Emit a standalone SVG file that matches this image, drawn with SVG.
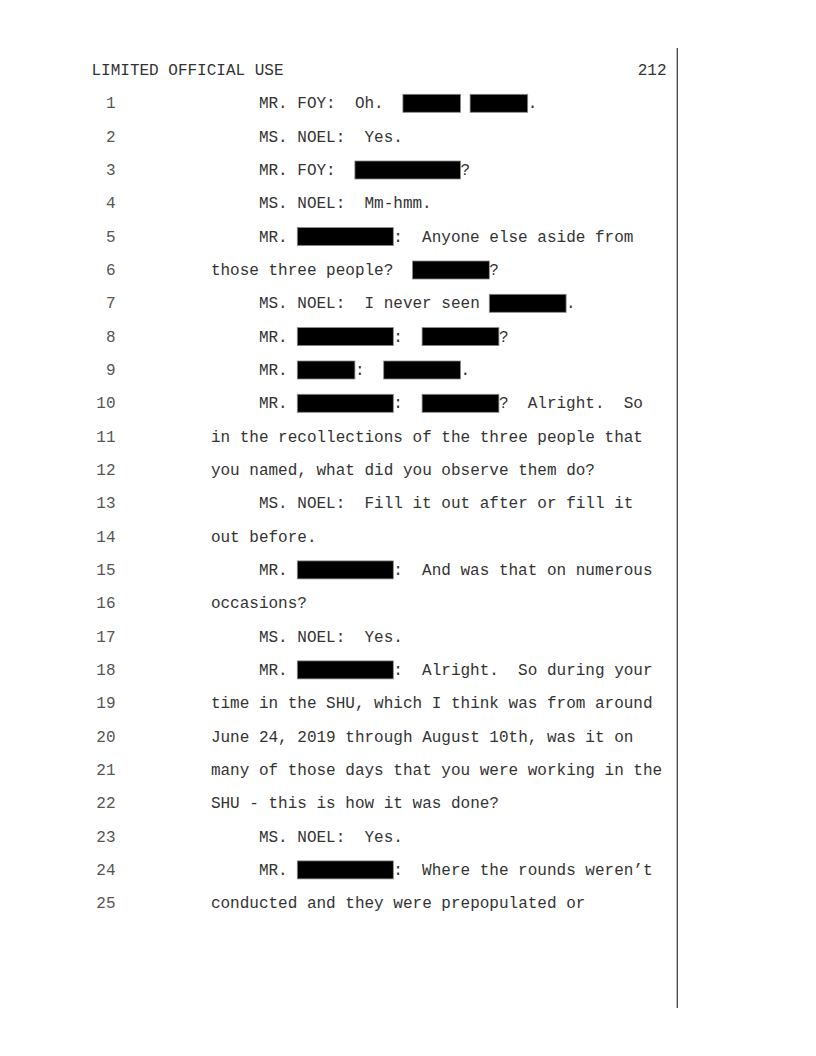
<svg xmlns="http://www.w3.org/2000/svg" width="816" height="1056" viewBox="0 0 816 1056" xml:space="preserve">
<style>
text{font-family:"Liberation Mono","Courier New",monospace;font-size:16px;fill:#333;white-space:pre}
.num{fill:#555;text-anchor:end}
.r{fill:#000;stroke:#8a8a8a;stroke-width:0.8}
</style>
<rect x="0" y="0" width="816" height="1056" fill="#fff"/>
<g id="header">
<text x="91.5" y="75.3">LIMITED OFFICIAL USE</text>
<text x="666.5" y="75.3" text-anchor="end">212</text>
<line x1="677.3" y1="48" x2="677.3" y2="1008" stroke="#444" stroke-width="1.3"/>
</g>
<g id="line-numbers">
<text class="num" x="115.5" y="108.3">1</text>
<text class="num" x="115.5" y="141.6">2</text>
<text class="num" x="115.5" y="175.0">3</text>
<text class="num" x="115.5" y="208.3">4</text>
<text class="num" x="115.5" y="241.6">5</text>
<text class="num" x="115.5" y="275.0">6</text>
<text class="num" x="115.5" y="308.3">7</text>
<text class="num" x="115.5" y="341.6">8</text>
<text class="num" x="115.5" y="375.0">9</text>
<text class="num" x="115.5" y="408.3">10</text>
<text class="num" x="115.5" y="441.6">11</text>
<text class="num" x="115.5" y="475.0">12</text>
<text class="num" x="115.5" y="508.3">13</text>
<text class="num" x="115.5" y="541.6">14</text>
<text class="num" x="115.5" y="574.9">15</text>
<text class="num" x="115.5" y="608.3">16</text>
<text class="num" x="115.5" y="641.6">17</text>
<text class="num" x="115.5" y="674.9">18</text>
<text class="num" x="115.5" y="708.3">19</text>
<text class="num" x="115.5" y="741.6">20</text>
<text class="num" x="115.5" y="774.9">21</text>
<text class="num" x="115.5" y="808.2">22</text>
<text class="num" x="115.5" y="841.6">23</text>
<text class="num" x="115.5" y="874.9">24</text>
<text class="num" x="115.5" y="908.2">25</text>
</g>
<g id="l1">
<text x="258.9" y="108.3">MR. FOY:  Oh.</text>
<rect class="r" x="402.9" y="94.3" width="57.6" height="18"/>
<rect class="r" x="470.1" y="94.3" width="57.6" height="18"/>
<text x="527.7" y="108.3">.</text>
</g>
<g id="l2"><text x="258.9" y="141.6">MS. NOEL:  Yes.</text></g>
<g id="l3">
<text x="258.9" y="175.0">MR. FOY:</text>
<rect class="r" x="354.9" y="161.0" width="105.6" height="18"/>
<text x="460.5" y="175.0">?</text>
</g>
<g id="l4"><text x="258.9" y="208.3">MS. NOEL:  Mm-hmm.</text></g>
<g id="l5">
<text x="258.9" y="241.6">MR.</text>
<rect class="r" x="297.3" y="227.6" width="96" height="18"/>
<text x="393.3" y="241.6">:  Anyone else aside from</text>
</g>
<g id="l6">
<text x="210.9" y="275.0">those three people?</text>
<rect class="r" x="412.5" y="261.0" width="76.8" height="18"/>
<text x="489.3" y="275.0">?</text>
</g>
<g id="l7">
<text x="258.9" y="308.3">MS. NOEL:  I never seen</text>
<rect class="r" x="489.3" y="294.3" width="76.8" height="18"/>
<text x="566.1" y="308.3">.</text>
</g>
<g id="l8">
<text x="258.9" y="341.6">MR.</text>
<rect class="r" x="297.3" y="327.6" width="96" height="18"/>
<text x="393.3" y="341.6">:</text>
<rect class="r" x="422.1" y="327.6" width="76.8" height="18"/>
<text x="498.9" y="341.6">?</text>
</g>
<g id="l9">
<text x="258.9" y="375.0">MR.</text>
<rect class="r" x="297.3" y="361.0" width="57.6" height="18"/>
<text x="354.9" y="375.0">:</text>
<rect class="r" x="383.7" y="361.0" width="76.8" height="18"/>
<text x="460.5" y="375.0">.</text>
</g>
<g id="l10">
<text x="258.9" y="408.3">MR.</text>
<rect class="r" x="297.3" y="394.3" width="96" height="18"/>
<text x="393.3" y="408.3">:</text>
<rect class="r" x="422.1" y="394.3" width="76.8" height="18"/>
<text x="498.9" y="408.3">?  Alright.  So</text>
</g>
<g id="l11"><text x="210.9" y="441.6">in the recollections of the three people that</text></g>
<g id="l12"><text x="210.9" y="475.0">you named, what did you observe them do?</text></g>
<g id="l13"><text x="258.9" y="508.3">MS. NOEL:  Fill it out after or fill it</text></g>
<g id="l14"><text x="210.9" y="541.6">out before.</text></g>
<g id="l15">
<text x="258.9" y="574.9">MR.</text>
<rect class="r" x="297.3" y="560.9" width="96" height="18"/>
<text x="393.3" y="574.9">:  And was that on numerous</text>
</g>
<g id="l16"><text x="210.9" y="608.3">occasions?</text></g>
<g id="l17"><text x="258.9" y="641.6">MS. NOEL:  Yes.</text></g>
<g id="l18">
<text x="258.9" y="674.9">MR.</text>
<rect class="r" x="297.3" y="660.9" width="96" height="18"/>
<text x="393.3" y="674.9">:  Alright.  So during your</text>
</g>
<g id="l19"><text x="210.9" y="708.3">time in the SHU, which I think was from around</text></g>
<g id="l20"><text x="210.9" y="741.6">June 24, 2019 through August 10th, was it on</text></g>
<g id="l21"><text x="210.9" y="774.9">many of those days that you were working in the</text></g>
<g id="l22"><text x="210.9" y="808.2">SHU - this is how it was done?</text></g>
<g id="l23"><text x="258.9" y="841.6">MS. NOEL:  Yes.</text></g>
<g id="l24">
<text x="258.9" y="874.9">MR.</text>
<rect class="r" x="297.3" y="860.9" width="96" height="18"/>
<text x="393.3" y="874.9">:  Where the rounds weren’t</text>
</g>
<g id="l25"><text x="210.9" y="908.2">conducted and they were prepopulated or</text></g>
</svg>
